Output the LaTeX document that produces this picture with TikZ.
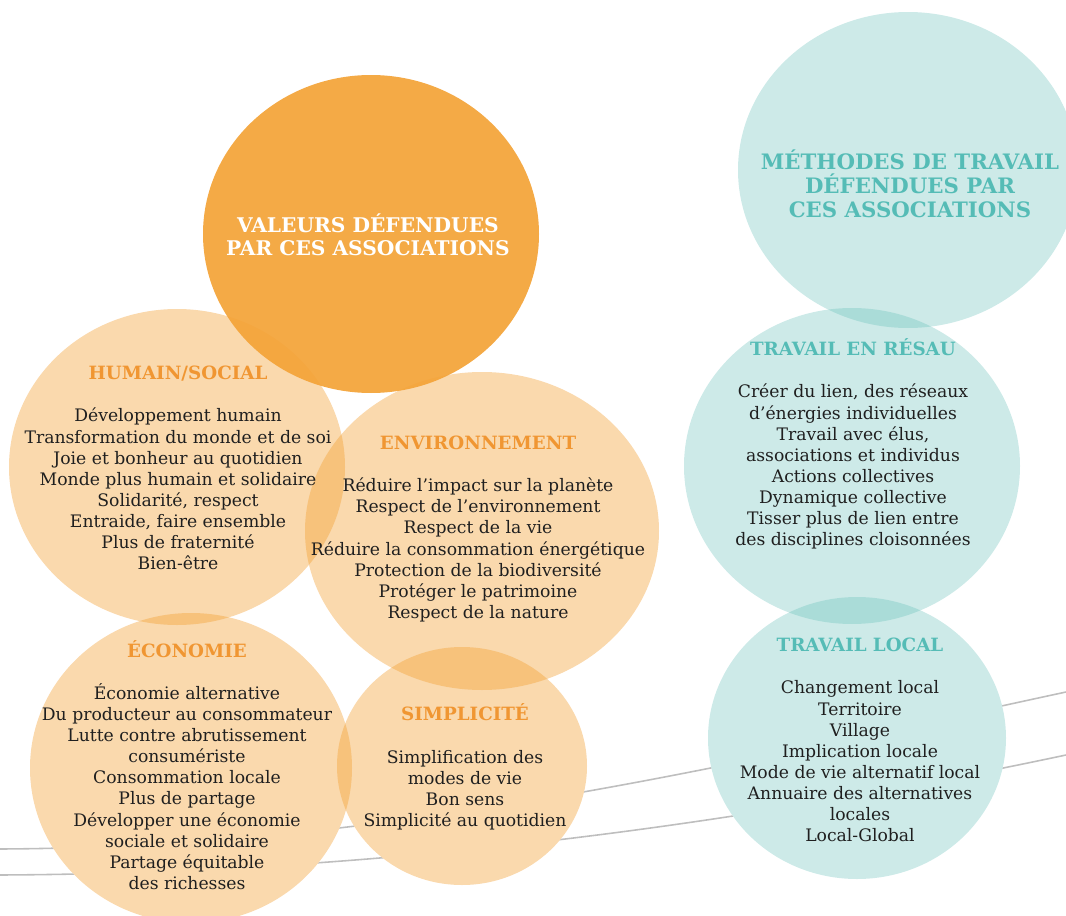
\documentclass[tikz,border=0pt]{standalone}
\usepackage{fontspec}
\setmainfont{DejaVu Serif}
\newcommand{\hval}[1]{{\fontsize{10.4}{12}\selectfont\textbf{\textcolor{titre}{#1}}}}
\newcommand{\hmet}[1]{{\fontsize{10.4}{12}\selectfont\textbf{\textcolor{titreb}{#1}}}}

\begin{document}
\begin{tikzpicture}[x=.02cm,y=.02cm]

\definecolor{valeur}{RGB}{244,163,55};
\definecolor{peche}{RGB}{243,160,50};
\definecolor{lagon}{RGB}{95,190,183};
\definecolor{titre}{RGB}{240,150,50};
\definecolor{titreb}{RGB}{85,188,182};
\definecolor{fil}{RGB}{190,190,190};
\def\op{.4} \def\opb{.31}

\tikzset{corps/.style={align=center, font=\fontsize{9.8}{12}\selectfont, text=black!88}}

\useasboundingbox (0,0) rectangle (1066,-916);

%%fils
\draw[fil, line width=.9pt] (0,-849) .. controls (400,-847) and (750,-760) .. (1066,-692);
\draw[fil, line width=.9pt] (0,-875) .. controls (400,-873) and (760,-820) .. (1066,-755);

\foreach \cx/\cy/\rx/\ry in {371/-234/168/159, 908/-170/170/158, 177/-467/168/158, 482/-531/177/159, 191/-768/161/155, 462/-766/125/119, 852/-466/168/158, 857/-738/149/141}{
\fill[white] (\cx,\cy) ellipse [x radius=\rx, y radius=\ry];
}

\foreach \cx/\cy/\rx/\ry in {177/-467/168/158, 482/-531/177/159, 191/-768/161/155, 462/-766/125/119}{
\fill[peche, fill opacity=\op] (\cx,\cy) ellipse [x radius=\rx, y radius=\ry];
}
\foreach \cx/\cy/\rx/\ry in {908/-170/170/158, 852/-466/168/158, 857/-738/149/141}{
\fill[lagon, fill opacity=\opb] (\cx,\cy) ellipse [x radius=\rx, y radius=\ry];
}
\fill[valeur, fill opacity=.92] (371,-234) ellipse [x radius=168, y radius=159];

\node[align=center, text=white, font=\fontsize{11.5}{13}\selectfont\bfseries] (valeurs) at (368,-235) {VALEURS DÉFENDUES\\PAR CES ASSOCIATIONS};
\node[align=center, text=titreb, font=\fontsize{12.1}{13.5}\selectfont\bfseries] (methodes) at (910,-184) {MÉTHODES DE TRAVAIL\\DÉFENDUES PAR\\CES ASSOCIATIONS};

\node[corps] (humain) at (178,-468) {\hval{HUMAIN/SOCIAL}\\[12pt]
Développement humain\\Transformation du monde et de soi\\Joie et bonheur au quotidien\\Monde plus humain et solidaire\\Solidarité, respect\\Entraide, faire ensemble\\Plus de fraternité\\Bien-être};

\node[corps] (environ) at (478,-529) {\hval{ENVIRONNEMENT}\\[12pt]
Réduire l’impact sur la planète\\Respect de l’environnement\\Respect de la vie\\Réduire la consommation énergétique\\Protection de la biodiversité\\Protéger le patrimoine\\Respect de la nature};

\node[corps] (economie) at (187,-765) {\hval{ÉCONOMIE}\\[12pt]
Économie alternative\\Du producteur au consommateur\\Lutte contre abrutissement\\consumériste\\Consommation locale\\Plus de partage\\Développer une économie\\sociale et solidaire\\Partage équitable\\des richesses};

\node[corps] (simple) at (465,-767) {\hval{SIMPLICITÉ}\\[12pt]
Simplification des\\modes de vie\\Bon sens\\Simplicité au quotidien};

\node[corps] (reseau) at (853,-444) {\hmet{TRAVAIL EN RÉSAU}\\[12pt]
Créer du lien, des réseaux\\d’énergies individuelles\\Travail avec élus,\\associations et individus\\Actions collectives\\Dynamique collective\\Tisser plus de lien entre\\des disciplines cloisonnées};

\node[corps] (local) at (860,-740) {\hmet{TRAVAIL LOCAL}\\[12pt]
Changement local\\Territoire\\Village\\Implication locale\\Mode de vie alternatif local\\Annuaire des alternatives\\locales\\Local-Global};

\end{tikzpicture}
\end{document}
